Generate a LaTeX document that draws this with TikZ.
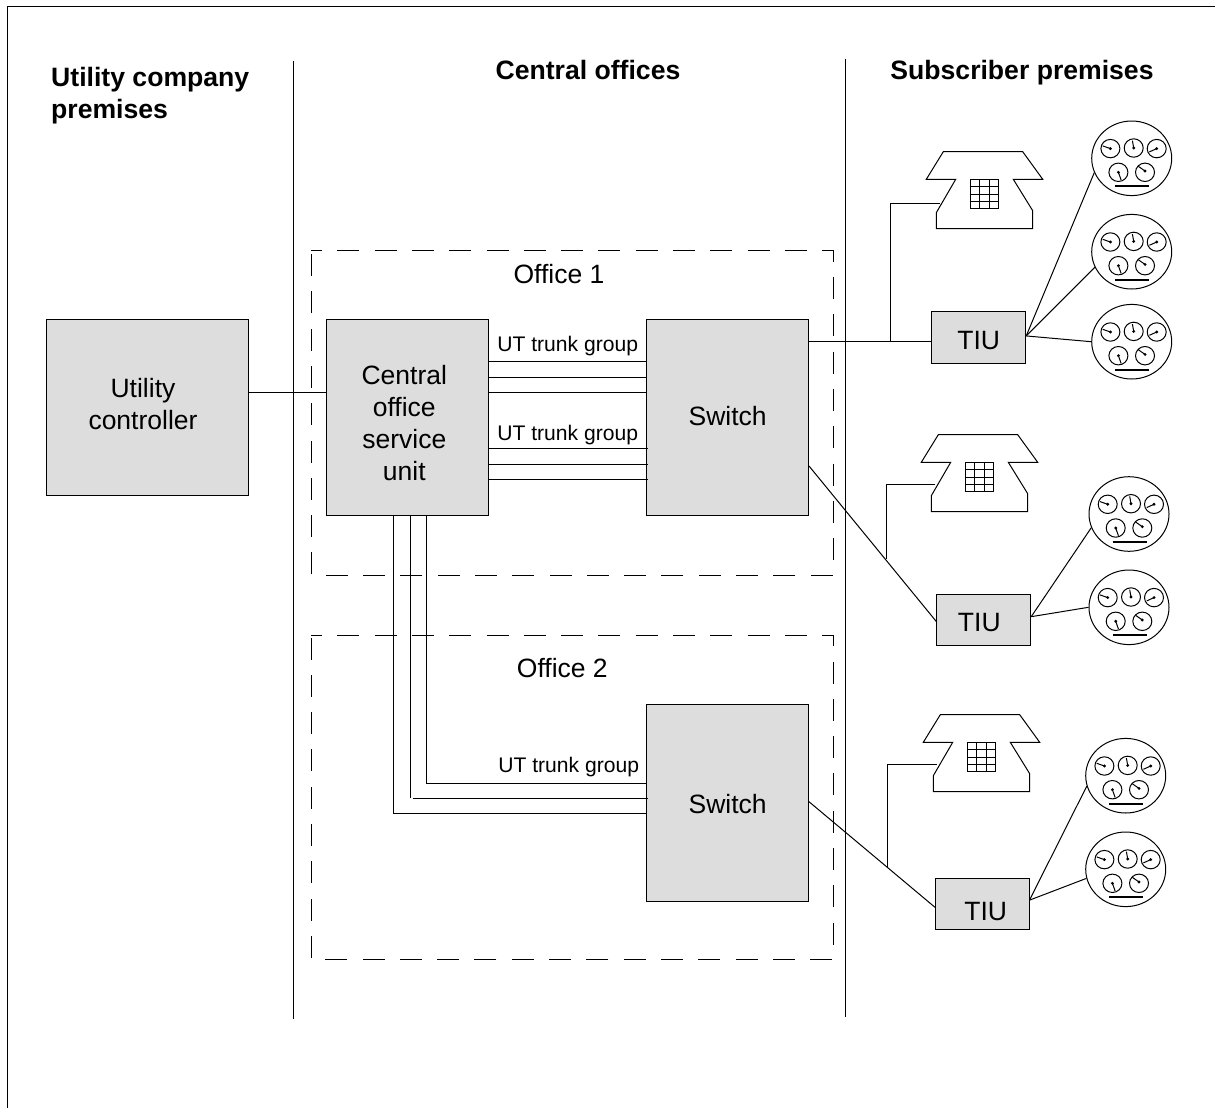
\documentclass[tikz,border=0pt]{standalone}
\usepackage{fontspec}
\setmainfont{Liberation Sans}
\usetikzlibrary{shapes.geometric}
\definecolor{boxgray}{HTML}{DDDDDD}
\tikzset{
  x=1pt,y=-1pt,
  ln/.style={line width=1pt,draw=black},
  box/.style={draw=black,line width=1pt,fill=boxgray,inner sep=0pt,align=center,font=\fontsize{26.5}{32}\selectfont},
  headtxt/.style={inner sep=0pt,anchor=base,font=\fontsize{26.6}{38}\selectfont\bfseries},
  offtxt/.style={inner sep=0pt,anchor=base,font=\fontsize{26.5}{32}\selectfont},
  trunktxt/.style={inner sep=0pt,anchor=base,font=\fontsize{21.1}{25}\selectfont},
  officebox/.style={line width=1pt,draw=black,dash pattern=on 22pt off 15.3pt,dash phase=11pt},
  meterbody/.style={ellipse,draw=black,line width=1pt,fill=white,minimum width=80pt,minimum height=74.6pt,inner sep=0pt},
}
\newcommand{\dial}[5]{%
  \draw[line width=1pt] (#1,#2) circle[x radius=9.5,y radius=9.2];
  \fill (#1,#2) ++(0,#5) circle[radius=1.6];
  \draw[line width=1pt] (#1,#2) ++(0,#5) -- ++(#3,#4);
}
\newcommand{\meterunit}[3]{%
  \node[meterbody] (#1) at (#2,#3) {};
  \begin{scope}[shift={(#2,#3)}]
    \dial{-21.3}{-9.7}{-7.7}{-2.7}{0}
    \dial{2}{-10.3}{-1.3}{-7.3}{0}
    \dial{25}{-9.7}{-7.3}{3.3}{0}
    \dial{-13.3}{14}{2.7}{7.7}{0}
    \dial{13.3}{14}{-6.7}{-4.7}{-1.3}
    \draw[line width=2.2pt] (-16.3,28) -- (17.7,28);
  \end{scope}}
\newcommand{\phoneunit}[4]{%
  \begin{scope}[shift={(#2,#3)}]
    \draw[ln,line join=miter] (0,0) -- (79.4,0) -- (99.4,27.6) -- (70,27.6) -- (89.4,59) -- (89.4,76.8) -- (-7,76.8) -- (-7,61) -- (12.4,27.6) -- (-17,27.6) -- cycle;
    \draw[line width=1pt] (27,27.3) rectangle (55,56.6);
    \draw[line width=1pt] (36.4,27.3) -- (36.4,56.6) (45.7,27.3) -- (45.7,56.6)
      (27,35) -- (55,35) (27,42.3) -- (55,42.3) (27,49.7) -- (55,49.7);
    \coordinate (#1) at (-3.3,#4);
  \end{scope}}
\begin{document}
\begin{tikzpicture}
\useasboundingbox (0,0) rectangle (1215,1108);
% frame and dividers
\coordinate (frameA) at (7,1108);
\coordinate (frameB) at (7,7);
\coordinate (frameC) at (1215,7);
\draw[ln] (frameA) -- (frameB) -- (frameC);
\coordinate (divAt) at (293,61);
\coordinate (divAb) at (293,1019);
\coordinate (divBt) at (845,59);
\coordinate (divBb) at (845,1017);
\draw[ln] (divAt) -- (divAb);
\draw[ln] (divBt) -- (divBb);
% headings
\node[headtxt,anchor=base west] (h1a) at (51,86) {Utility company};
\node[headtxt,anchor=base west] (h1b) at (51,118) {premises};
\node[headtxt] (h2) at (588,79) {Central offices};
\node[headtxt] (h3) at (1022,79) {Subscriber premises};
% office outlines
\draw[officebox] (311,250.5) -- (833,250.5) -- (833,575) -- (311,575) -- cycle;
\draw[officebox] (311,635) -- (833,635) -- (833,959) -- (311,959) -- cycle;
\node[offtxt] (o1) at (559,283.3) {Office 1};
\node[offtxt] (o2) at (562.3,677.7) {Office 2};
% boxes
\node[box,minimum width=202pt,minimum height=176pt] (uc) at (147,407) {Utility\kern 8pt\\controller\kern 8pt\rule[-7pt]{0pt}{0pt}};
\node[box,minimum width=162pt,minimum height=196pt] (cos) at (407.3,417) {\rule{0pt}{31pt}Central\kern 6pt\\office\kern 6pt\\service\kern 6pt\\unit\kern 6pt};
\node[box,minimum width=162pt,minimum height=196pt,text height=17pt,text depth=0pt] (sw1) at (727.6,417) {Switch};
\node[box,minimum width=162pt,minimum height=196.3pt,text height=22pt,text depth=0pt] (sw2) at (727.6,802.9) {Switch};
\node[box,minimum width=94pt,minimum height=51.3pt,text height=23.4pt,text depth=0pt] (tiu1) at (978.7,337.6) {TIU};
\node[box,minimum width=94pt,minimum height=51.3pt,text height=22pt,text depth=0pt] (tiu2) at (983.7,620) {TIU\kern 8.8pt};
\node[box,minimum width=94pt,minimum height=51.3pt,text height=31.4pt,text depth=0pt] (tiu3) at (982,904.3) {\kern 7.4pt TIU};
% utility link
\draw[ln] (uc.east |- 0,392) -- (cos.west |- 0,392);
% trunk groups
\node[trunktxt] (t1) at (567.7,351.7) {UT trunk group};
\node[trunktxt] (t2) at (567.7,440.7) {UT trunk group};
\node[trunktxt] (t3) at (568.7,772.3) {UT trunk group};
\foreach \yy in {361.7,377,392}
  \draw[ln] (cos.east |- 0,\yy) -- (sw1.west |- 0,\yy);
\foreach \yy in {448.7,464,479.3}
  \draw[ln] (cos.east |- 0,\yy) -- ([xshift=2pt]sw1.west |- 0,\yy);
\draw[ln] (426.7,0 |- cos.south) |- (sw2.west |- 0,783);
\draw[ln] (393.7,0 |- cos.south) |- (sw2.west |- 0,813.7);
\coordinate (midend) at (410,798.3);
\coordinate (midstart) at (412.7,798.3);
\draw[ln] (410,0 |- cos.south) -- (midend);
\draw[ln] (midstart) -- ([xshift=2pt]sw2.west |- 0,798.3);
% switch to TIU links
\draw[ln] (sw1.east |- 0,341) -- (tiu1.west |- 0,341);
\coordinate (s1b) at (809,466);
\coordinate (t2w) at (936.7,622);
\draw[ln] (s1b) -- (t2w);
\coordinate (s2b) at (809,801.7);
\coordinate (t3w) at (935,907.3);
\draw[ln] (s2b) -- (t3w);
% phones
\phoneunit{ph1}{943.3}{151.7}{51.6}
\phoneunit{ph2}{938.3}{434.7}{49.6}
\phoneunit{ph3}{940.3}{714.7}{49.6}
\coordinate (j1) at (890.3,341);
\coordinate (j2) at (886,559);
\coordinate (j3) at (887.7,867);
\draw[ln] (ph1) -| (j1);
\draw[ln] (ph2) -| (j2);
\draw[ln] (ph3) -| (j3);
% meters
\meterunit{m1}{1131.7}{158.3}
\meterunit{m2}{1131.7}{251.7}
\meterunit{m3}{1131.7}{341.7}
\meterunit{m4}{1129}{514}
\meterunit{m5}{1129}{607.3}
\meterunit{m6}{1125.7}{775.7}
\meterunit{m7}{1125.7}{869.3}
\draw[ln] (tiu1.2) -- (m1.201);
\draw[ln] (tiu1.2) -- (m2.203);
\draw[ln] (tiu1.2) -- (m3.west);
\draw[ln] (tiu2.4) -- (m4.200);
\draw[ln] (tiu2.4) -- (m5.west);
\draw[ln] (tiu3.5) -- (m6.195);
\draw[ln] (tiu3.5) -- (m7.193);
\end{tikzpicture}
\end{document}
